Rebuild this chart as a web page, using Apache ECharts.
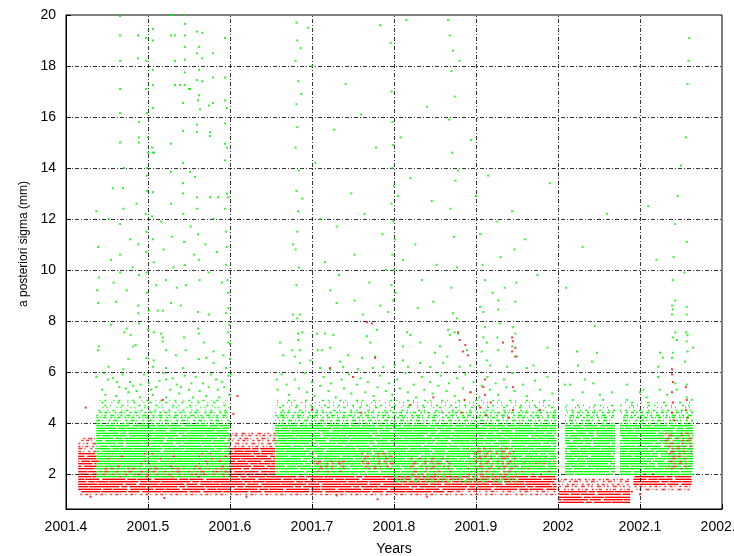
<!DOCTYPE html>
<html>
<head>
<meta charset="utf-8">
<script src="https://cdn.jsdelivr.net/npm/echarts@6/dist/echarts.min.js"></script>
<style>
html, body { margin: 0; padding: 0; background: #fff; }
#chart { width: 734px; height: 556px; }
</style>
</head>
<body>
<div id="chart"></div>
<script>
// Axis ticks
const xTicks = [2001.4, 2001.5, 2001.6, 2001.7, 2001.8, 2001.9, 2002.0, 2002.1, 2002.2];
const yTicks = [2, 4, 6, 8, 10, 12, 14, 16, 18, 20];

// Sigma values are reported on a 0.1 mm grid
const sigmaLevels = [0.9, 1.0, 1.1, 1.2, 1.3, 1.4, 1.5, 1.6, 1.7, 1.8, 1.9, 2.0, 2.1, 2.2, 2.3, 2.4,
  2.5, 2.6, 2.7, 2.8, 2.9, 3.0, 3.1, 3.2, 3.3, 3.4, 3.5, 3.6, 3.7, 3.8, 3.9, 4.0, 4.1, 4.2, 4.3,
  4.4, 4.5, 4.6, 4.7, 4.8, 4.9];

// Continuous runs of epochs: [start year, end year, lowest sigma, highest sigma]
const redDense = [
  [2001.415, 2001.998, 1.4, 1.9],
  [2001.415, 2001.870, 1.3, 1.3],
  [2001.415, 2001.655, 2.0, 2.8],
  [2001.598, 2001.655, 2.9, 3.0],
  [2001.950, 2001.998, 2.0, 2.2],
  [2002.001, 2002.088, 0.9, 1.3],
  [2002.092, 2002.163, 1.6, 2.0]
];
const redSparse = [
  [2001.415, 2001.437, 2.9, 3.4],
  [2001.598, 2001.655, 3.1, 3.6],
  [2001.415, 2001.998, 1.2, 1.2],
  [2001.870, 2001.998, 1.3, 1.3],
  [2002.001, 2002.088, 1.4, 1.8],
  [2002.092, 2002.163, 1.4, 1.5],
  [2001.950, 2001.998, 2.3, 2.6]
];
const redOverGreen = [
  [2001.437, 2001.599, 2.0, 2.2],
  [2001.700, 2001.740, 2.1, 2.5],
  [2001.760, 2001.800, 2.2, 2.8],
  [2001.820, 2001.870, 2.0, 2.6],
  [2001.890, 2001.950, 2.0, 3.0],
  [2002.130, 2002.163, 2.2, 3.6]
];
const greenDense = [
  [2001.437, 2001.599, 1.9, 3.9],
  [2001.655, 2001.998, 2.0, 3.9],
  [2002.0085, 2002.0695, 2.0, 3.9],
  [2002.0756, 2002.1646, 2.0, 3.9]
];
const greenSparse = [
  [2001.437, 2001.599, 4.0, 4.9],
  [2001.655, 2001.998, 4.0, 4.9],
  [2002.0085, 2002.0695, 4.0, 4.7],
  [2002.0756, 2002.1646, 4.0, 4.8],
  [2001.800, 2001.950, 1.7, 1.9]
];

// Isolated epochs: [year, sigma]
const greenPoints = [
  [2001.4659,19.96],[2001.4659,19.2],[2001.4659,18.2],[2001.4659,17.1],[2001.4659,16.15],[2001.4659,15.0],
  [2001.4573,13.2],[2001.4695,13.2],[2001.4707,14.0],[2001.4878,19.2],[2001.4878,18.3],[2001.489,15.0],
  [2001.489,15.2],[2001.489,15.8],[2001.4976,19.1],[2001.4976,18.2],[2001.4976,17.1],[2001.4988,16.15],
  [2001.500,15.2],[2001.500,14.6],[2001.4988,14.0],[2001.4988,13.7],[2001.4988,13.1],[2001.5061,19.45],
  [2001.5061,19.0],[2001.5061,17.85],[2001.5061,17.25],[2001.5061,16.35],[2001.505,14.8],[2001.5061,14.6],
  [2001.5073,14.6],[2001.5061,13.05],[2001.528,20.0],[2001.5305,20.0],[2001.528,19.2],[2001.5329,19.2],
  [2001.5329,18.2],[2001.5329,17.25],[2001.539,17.25],[2001.528,14.95],[2001.528,13.85],[2001.5427,14.2],
  [2001.5427,13.4],[2001.5427,13.0],[2001.5451,20.0],[2001.5451,19.65],[2001.5451,19.2],[2001.5451,18.75],
  [2001.5451,18.25],[2001.5451,17.75],[2001.5451,17.25],[2001.5512,17.1],[2001.5427,16.55],[2001.5427,15.45],
  [2001.5598,19.35],[2001.5659,19.3],[2001.5622,18.75],[2001.5598,18.5],[2001.5659,18.3],[2001.5622,17.85],
  [2001.5598,17.45],[2001.5659,17.4],[2001.5622,16.85],[2001.561,16.65],[2001.5634,16.3],[2001.5598,15.7],
  [2001.5598,15.4],[2001.5756,15.4],[2001.5756,15.25],[2001.5793,18.5],[2001.5793,17.55],[2001.5744,16.45],
  [2001.5793,16.55],[2001.55,17.1],[2001.5512,13.85],[2001.5573,13.65],[2001.5598,12.85],[2001.5756,12.85],
  [2001.5854,12.85],[2001.5939,19.1],[2001.5939,17.55],[2001.5939,16.65],[2001.5963,16.35],[2001.5939,15.75],
  [2001.5939,14.95],[2001.5963,14.8],[2001.5939,14.3],[2001.5963,13.0],[2001.5976,12.85],
  [2001.437,12.3],[2001.439,10.9],[2001.440,9.7],[2001.438,9.2],[2001.452,12.0],[2001.455,10.4],[2001.458,9.5],
  [2001.466,11.8],[2001.466,10.6],[2001.466,9.9],[2001.470,12.4],[2001.474,9.2],[2001.478,11.2],[2001.481,10.1],
  [2001.486,12.6],[2001.488,11.0],[2001.489,9.8],[2001.497,12.2],[2001.498,11.5],[2001.498,10.7],[2001.498,9.9],
  [2001.499,9.1],[2001.505,12.1],[2001.506,11.2],[2001.507,10.3],[2001.510,9.4],[2001.516,11.9],[2001.519,10.8],
  [2001.522,9.6],[2001.528,12.6],[2001.529,11.3],[2001.531,10.1],[2001.535,9.3],[2001.543,12.2],[2001.544,11.1],
  [2001.545,10.2],[2001.546,9.4],[2001.552,11.7],[2001.556,10.6],[2001.560,12.4],[2001.561,11.4],[2001.562,10.4],
  [2001.563,9.6],[2001.570,11.0],[2001.574,9.9],[2001.580,12.0],[2001.584,10.7],[2001.590,9.5],[2001.594,12.4],
  [2001.595,11.5],[2001.596,10.9],[2001.595,10.2],[2001.597,9.6],[2001.598,9.1],
  [2001.439,8.7],[2001.461,8.75],[2001.488,8.6],[2001.488,8.3],[2001.501,8.4],[2001.512,8.4],[2001.518,8.4],
  [2001.528,8.7],[2001.540,8.6],[2001.561,8.35],[2001.574,8.25],[2001.595,8.3],[2001.598,8.5],[2001.455,7.85],
  [2001.440,7.0],[2001.439,6.85],[2001.474,7.7],[2001.471,7.55],[2001.479,7.45],[2001.489,7.9],[2001.500,7.65],
  [2001.507,7.55],[2001.516,7.5],[2001.518,7.35],[2001.518,7.2],[2001.522,6.85],[2001.544,7.35],[2001.561,7.7],
  [2001.562,7.5],[2001.568,7.15],[2001.580,6.8],[2001.485,7.05],[2001.482,7.0],[2001.498,6.55],[2001.476,6.5],
  [2001.452,6.2],[2001.470,6.1],[2001.507,6.45],[2001.534,6.65],[2001.546,6.85],[2001.562,6.5],[2001.571,6.55],
  [2001.580,6.35],[2001.592,6.65],[2001.598,7.15],[2001.598,7.55],[2001.599,7.85],[2001.595,6.15],[2001.506,6.2],
  [2001.522,6.15],[2001.543,6.15],
  [2001.437,5.8],[2001.451,5.7],[2001.457,5.75],[2001.465,5.4],[2001.473,5.35],[2001.482,5.45],[2001.491,5.5],
  [2001.501,5.55],[2001.510,5.4],[2001.522,5.7],[2001.530,5.75],[2001.540,5.4],[2001.550,5.3],[2001.558,5.8],
  [2001.567,5.55],[2001.574,5.4],[2001.583,5.7],[2001.593,5.4],[2001.598,5.85],[2001.448,5.1],[2001.461,5.05],
  [2001.476,5.2],[2001.490,5.0],[2001.506,5.1],[2001.522,5.0],[2001.538,5.15],[2001.555,5.0],[2001.571,5.05],
  [2001.587,5.0],[2001.599,5.1],[2001.444,5.3],[2001.447,5.95],[2001.462,5.6],[2001.469,5.9],[2001.478,5.6],
  [2001.486,5.25],[2001.495,5.9],[2001.504,5.3],[2001.514,5.65],[2001.519,5.95],[2001.527,5.3],[2001.535,5.5],
  [2001.545,5.85],[2001.553,5.55],[2001.563,5.25],[2001.577,5.9],[2001.585,5.3],[2001.590,5.6],
  [2001.600,7.1],[2001.600,6.5],[2001.601,5.9],
  [2001.681,19.7],[2001.682,19.0],[2001.680,18.2],[2001.683,17.4],[2001.681,16.5],[2001.682,15.6],[2001.680,14.8],
  [2001.684,13.9],[2001.681,13.1],[2001.683,12.3],[2001.682,11.5],[2001.680,10.8],[2001.684,10.1],[2001.681,9.4],
  [2001.686,18.7],[2001.687,16.9],[2001.688,12.8],[2001.677,11.0],[2001.695,19.5],[2001.700,18.0],[2001.704,14.2],
  [2001.710,12.0],[2001.716,10.3],[2001.722,9.2],[2001.727,15.5],[2001.730,11.7],[2001.733,9.8],[2001.741,17.3],
  [2001.748,13.0],[2001.752,10.6],[2001.760,16.1],[2001.764,12.2],[2001.770,9.5],[2001.778,14.8],[2001.783,19.6],
  [2001.786,11.4],[2001.790,10.0],[2001.796,18.9],[2001.797,17.0],[2001.798,15.8],[2001.799,14.9],[2001.798,14.0],
  [2001.800,13.3],[2001.797,12.6],[2001.799,11.9],[2001.801,11.2],[2001.798,10.6],[2001.800,10.0],[2001.797,9.4],
  [2001.802,9.1],[2001.805,12.9],[2001.808,15.2],[2001.811,10.4],[2001.815,19.8],[2001.820,13.6],[2001.826,11.0],
  [2001.834,9.6],[2001.840,16.4],[2001.846,12.7],[2001.852,10.2],[2001.866,19.8],[2001.868,19.2],[2001.872,18.6],
  [2001.870,17.8],[2001.874,16.8],[2001.867,15.9],[2001.871,14.6],[2001.875,13.5],[2001.869,12.4],[2001.873,11.3],
  [2001.877,10.1],[2001.870,9.3],[2001.880,18.2],[2001.878,13.9],[2001.894,15.1],[2001.900,12.9],[2001.905,11.4],
  [2001.908,10.2],[2001.911,9.6],[2001.915,13.7],[2001.920,9.1],[2001.926,11.9],[2001.930,10.5],[2001.935,9.3],
  [2001.944,12.3],[2001.947,10.8],[2001.949,9.5],[2001.960,11.2],[2001.975,9.8],[2001.990,13.4],
  [2001.677,8.25],[2001.685,8.25],[2001.682,8.1],[2001.683,7.5],[2001.688,7.55],[2001.683,7.25],[2001.685,6.85],
  [2001.676,6.85],[2001.679,6.6],[2001.685,6.35],[2001.657,5.7],[2001.661,7.15],[2001.665,6.65],[2001.706,7.5],
  [2001.712,6.85],[2001.716,7.5],[2001.722,6.95],[2001.730,8.7],[2001.726,7.45],[2001.744,6.65],[2001.752,8.8],
  [2001.762,8.25],[2001.767,7.4],[2001.771,7.15],[2001.777,6.6],[2001.779,7.65],[2001.783,8.6],[2001.793,8.35],
  [2001.799,8.8],[2001.761,6.55],[2001.734,6.4],[2001.698,6.45],[2001.707,6.85],[2001.710,6.15],[2001.722,6.1],
  [2001.738,6.2],[2001.756,6.1],[2001.774,6.15],[2001.787,6.2],[2001.801,6.25],
  [2001.848,8.75],[2001.829,8.5],[2001.872,8.3],[2001.877,8.1],[2001.816,7.55],[2001.820,7.45],[2001.832,7.15],
  [2001.866,7.65],[2001.868,7.45],[2001.874,7.55],[2001.878,7.5],[2001.856,7.0],[2001.850,6.75],[2001.865,6.6],
  [2001.889,6.85],[2001.905,8.55],[2001.909,8.35],[2001.911,7.75],[2001.909,7.35],[2001.913,7.15],[2001.907,6.8],
  [2001.913,6.45],[2001.927,8.8],[2001.927,8.45],[2001.929,7.9],[2001.926,7.35],[2001.927,6.85],[2001.948,8.75],
  [2001.945,7.75],[2001.948,7.5],[2001.944,7.0],[2001.950,6.6],[2001.987,6.95],[2001.811,6.45],[2001.817,6.2],
  [2001.832,6.35],[2001.844,6.2],[2001.860,6.35],[2001.880,6.2],[2001.893,6.25],[2001.917,6.25],[2001.938,6.2],
  [2001.962,6.15],[2001.970,6.25],[2001.811,7.0],
  [2001.658,5.3],[2001.663,5.9],[2001.669,5.5],[2001.672,5.1],[2001.679,5.7],[2001.684,5.35],[2001.691,5.95],
  [2001.694,5.2],[2001.700,5.6],[2001.703,5.05],[2001.710,5.45],[2001.714,5.8],[2001.720,5.25],[2001.723,5.55],
  [2001.729,5.0],[2001.736,5.7],[2001.739,5.35],[2001.745,5.9],[2001.748,5.15],[2001.755,5.5],[2001.759,5.75],
  [2001.765,5.2],[2001.768,5.6],[2001.775,5.05],[2001.780,5.4],[2001.783,5.85],[2001.790,5.25],[2001.794,5.55],
  [2001.798,5.1],[2001.804,5.7],[2001.807,5.35],[2001.814,5.95],[2001.817,5.2],[2001.824,5.5],[2001.827,5.0],
  [2001.834,5.8],[2001.837,5.3],[2001.844,5.6],[2001.847,5.15],[2001.854,5.45],[2001.857,5.85],[2001.864,5.25],
  [2001.867,5.55],[2001.874,5.05],[2001.877,5.75],[2001.884,5.35],[2001.887,5.9],[2001.894,5.2],[2001.897,5.6],
  [2001.904,5.0],[2001.907,5.45],[2001.914,5.8],[2001.917,5.3],[2001.924,5.55],[2001.927,5.1],[2001.934,5.7],
  [2001.937,5.4],[2001.944,5.95],[2001.947,5.25],[2001.957,5.5],[2001.962,5.05],[2001.972,5.65],[2001.978,5.3],
  [2001.987,5.8],[2001.993,5.15],
  [2002.045,7.8],[2002.0232,6.8],[2002.0415,6.4],[2002.0476,6.75],[2002.0244,6.25],[2002.122,6.2],[2002.1244,6.75],
  [2002.128,6.55],[2002.139,8.6],[2002.140,8.45],[2002.139,8.25],[2002.143,8.8],[2002.157,8.55],[2002.157,8.25],
  [2002.143,7.55],[2002.140,7.35],[2002.145,7.25],[2002.156,7.55],[2002.158,7.45],[2002.157,7.2],[2002.140,6.75],
  [2002.139,6.55],[2002.158,6.8],[2002.155,6.4],[2002.165,6.95],
  [2002.0085,5.5],[2002.0146,5.5],[2002.033,5.7],[2002.043,5.55],[2002.030,5.2],[2002.051,5.1],[2002.066,5.2],
  [2002.084,5.5],[2002.100,5.2],[2002.104,5.3],[2002.108,5.0],[2002.122,5.8],[2002.124,5.3],[2002.133,5.1],
  [2002.143,5.55],[2002.145,5.3],[2002.157,5.5],[2002.157,5.0],[2002.163,4.9],[2002.018,4.9],[2002.055,4.9],
  [2002.084,4.9],
  [2002.140,9.6],[2002.141,10.5],[2002.143,11.8],[2002.146,12.9],[2002.150,14.1],[2002.156,15.2],[2002.158,17.3],
  [2002.159,18.2],[2002.160,19.1],[2002.157,11.1],[2002.154,9.9],[2002.120,10.4],[2002.110,12.5],[2002.030,10.9],
  [2002.060,12.2],[2002.010,9.3]
];
const redPoints = [
  [2001.424,4.6],[2001.518,4.9],[2001.609,5.05],[2001.604,4.35],[2001.767,7.95],[2001.773,7.9],[2001.777,6.55],
  [2001.722,6.15],[2001.750,5.8],[2001.878,7.55],[2001.880,7.25],[2001.887,7.05],[2001.884,6.8],[2001.890,6.65],
  [2001.944,7.35],[2001.945,7.2],[2001.948,6.95],[2001.944,6.8],[2001.948,6.6],[2001.933,7.15],[2001.911,5.7],
  [2001.909,5.4],[2001.911,5.1],[2001.945,5.4],[2001.893,5.2],[2001.848,5.0],[2001.978,4.5],
  [2002.139,6.1],[2002.139,5.9],[2002.140,5.6],[2002.139,5.2],[2002.140,4.8],[2002.139,4.4],[2002.141,4.1],
  [2002.156,5.4],[2002.157,4.9],[2002.156,4.5],[2002.158,4.2],
  [2001.905,4.6],[2001.912,4.3],[2001.918,4.8],[2001.882,4.4],[2001.886,4.9],[2001.945,4.5],[2001.940,4.2],
  [2001.700,4.5],[2001.760,4.4],[2001.820,4.7],
  [2001.430,1.1],[2001.520,1.05],[2001.620,1.1],[2001.730,1.15],[2001.780,1.0],[2001.840,1.1],[2002.090,1.3],
  [2002.100,1.2]
];

// Expand each run into one horizontal segment per sigma level it covers
function runsToSegments(runs) {
  const segs = [];
  runs.forEach(([t0, t1, lo, hi]) => {
    sigmaLevels.forEach(v => {
      if (v >= lo - 1e-6 && v <= hi + 1e-6) segs.push([t0, t1, v]);
    });
  });
  return segs;
}

function segLines(runs, styleFn) {
  return runsToSegments(runs).map((s, i) => {
    const item = { coords: [[s[0], s[2]], [s[1], s[2]]] };
    if (styleFn) item.lineStyle = styleFn(s, i);
    return item;
  });
}

function lineSeries(data, color, width, z, dash) {
  return {
    type: 'lines',
    coordinateSystem: 'cartesian2d',
    polyline: false,
    silent: true,
    animation: false,
    z: z,
    lineStyle: { color: color, width: width, opacity: 1, type: dash || 'solid' },
    data: data
  };
}

// Dash patterns that break up the rows of dots irregularly
const densePatterns = [[23, 2, 9, 1, 14, 3], [17, 1, 30, 2, 6, 2], [11, 3, 19, 1, 25, 2], [29, 2, 7, 1, 12, 1]];
const denseStyle = (s, i) => ({ type: densePatterns[i % 4], dashOffset: (i * 7) % 31 });
const sparsePatterns = [[3, 2, 1, 4, 2, 3], [2, 3, 4, 2, 1, 5], [1, 2, 3, 4, 2, 2], [4, 3, 1, 2, 2, 4]];
const farPatterns = [[1, 5, 2, 8], [2, 7, 1, 4], [1, 9, 1, 3], [2, 4, 1, 10]];
const sparseStyle = (s, i) => ({
  type: s[2] >= 4.45 ? farPatterns[i % 4] : sparsePatterns[i % 4],
  dashOffset: (i * 5) % 13
});
const mixPatterns = [[1, 5, 3, 7, 2, 4], [2, 6, 1, 3, 4, 8], [3, 4, 1, 9, 2, 3]];
const mixStyle = (s, i) => ({ type: mixPatterns[i % 3], dashOffset: (i * 4) % 11 });

const chart = echarts.init(document.getElementById('chart'), null, { renderer: 'canvas' });

const fontFamily = '"Liberation Sans", Arial, Helvetica, sans-serif';
const gridLine = { color: '#111', width: 1, type: [4, 2, 1, 2], opacity: 0.85 };

chart.setOption({
  animation: false,
  backgroundColor: '#fff',
  grid: {
    left: 66, right: 12, top: 15, bottom: 47,
    outerBoundsMode: 'none',
    containLabel: false,
    show: true, borderColor: '#000', borderWidth: 1, backgroundColor: 'transparent'
  },
  xAxis: {
    type: 'value',
    min: 2001.4, max: 2002.2,
    name: 'Years',
    nameLocation: 'middle',
    nameGap: 33,
    nameTextStyle: { color: '#000', fontSize: 14, fontFamily: fontFamily },
    axisLine: { show: true, lineStyle: { color: '#000' } },
    axisTick: { show: true, inside: true, length: 5, customValues: xTicks, lineStyle: { color: '#000' } },
    splitLine: { show: false },
    axisLabel: {
      customValues: xTicks,
      margin: 11,
      color: '#000', fontSize: 14, fontFamily: fontFamily,
      showMinLabel: true, showMaxLabel: true,
      formatter: v => {
        const r = Math.round(v * 10) / 10;
        return Number.isInteger(r) ? String(r) : r.toFixed(1);
      }
    }
  },
  yAxis: {
    type: 'value',
    min: 0.62, max: 20,
    name: 'a posteriori sigma (mm)',
    nameLocation: 'middle',
    nameGap: 36,
    nameRotate: 90,
    nameTextStyle: { color: '#000', fontSize: 12, fontFamily: fontFamily, padding: [0, 0, 0, 36] },
    axisLine: { show: true, lineStyle: { color: '#000' } },
    axisTick: { show: true, inside: true, length: 5, customValues: yTicks, lineStyle: { color: '#000' } },
    splitLine: { show: false },
    axisLabel: {
      customValues: yTicks,
      margin: 10,
      color: '#000', fontSize: 14, fontFamily: fontFamily,
      formatter: v => String(Math.round(v))
    }
  },
  series: [
    lineSeries(segLines(redDense, denseStyle), '#ffa4a4', 1.9, 2),
    lineSeries(segLines(redDense, denseStyle), '#ff0000', 1.0, 3),
    lineSeries(segLines(redSparse, sparseStyle), '#ff3030', 1.4, 3),
    lineSeries(segLines(greenDense, denseStyle), '#a8ffa8', 1.9, 4),
    lineSeries(segLines(greenDense, denseStyle), '#00ff00', 1.0, 5),
    lineSeries(segLines(greenSparse, sparseStyle), '#00ff00', 1.4, 5),
    lineSeries(segLines(redOverGreen, mixStyle), '#ff3a3a', 1.3, 6),
    {
      type: 'scatter', silent: true, animation: false, z: 7,
      symbol: 'rect', symbolSize: 2,
      itemStyle: { color: '#00f000' },
      data: greenPoints
    },
    {
      type: 'scatter', silent: true, animation: false, z: 8,
      symbol: 'rect', symbolSize: 2,
      itemStyle: { color: '#ff0000' },
      data: redPoints,
      markLine: {
        silent: true, symbol: ['none', 'none'], label: { show: false },
        lineStyle: gridLine, animation: false,
        data: yTicks.filter(v => v < 20).map(v => ({ yAxis: v }))
          .concat(xTicks.filter((v, i) => i > 0 && i < xTicks.length - 1).map(v => ({ xAxis: v })))
      }
    }
  ]
});
</script>
</body>
</html>
